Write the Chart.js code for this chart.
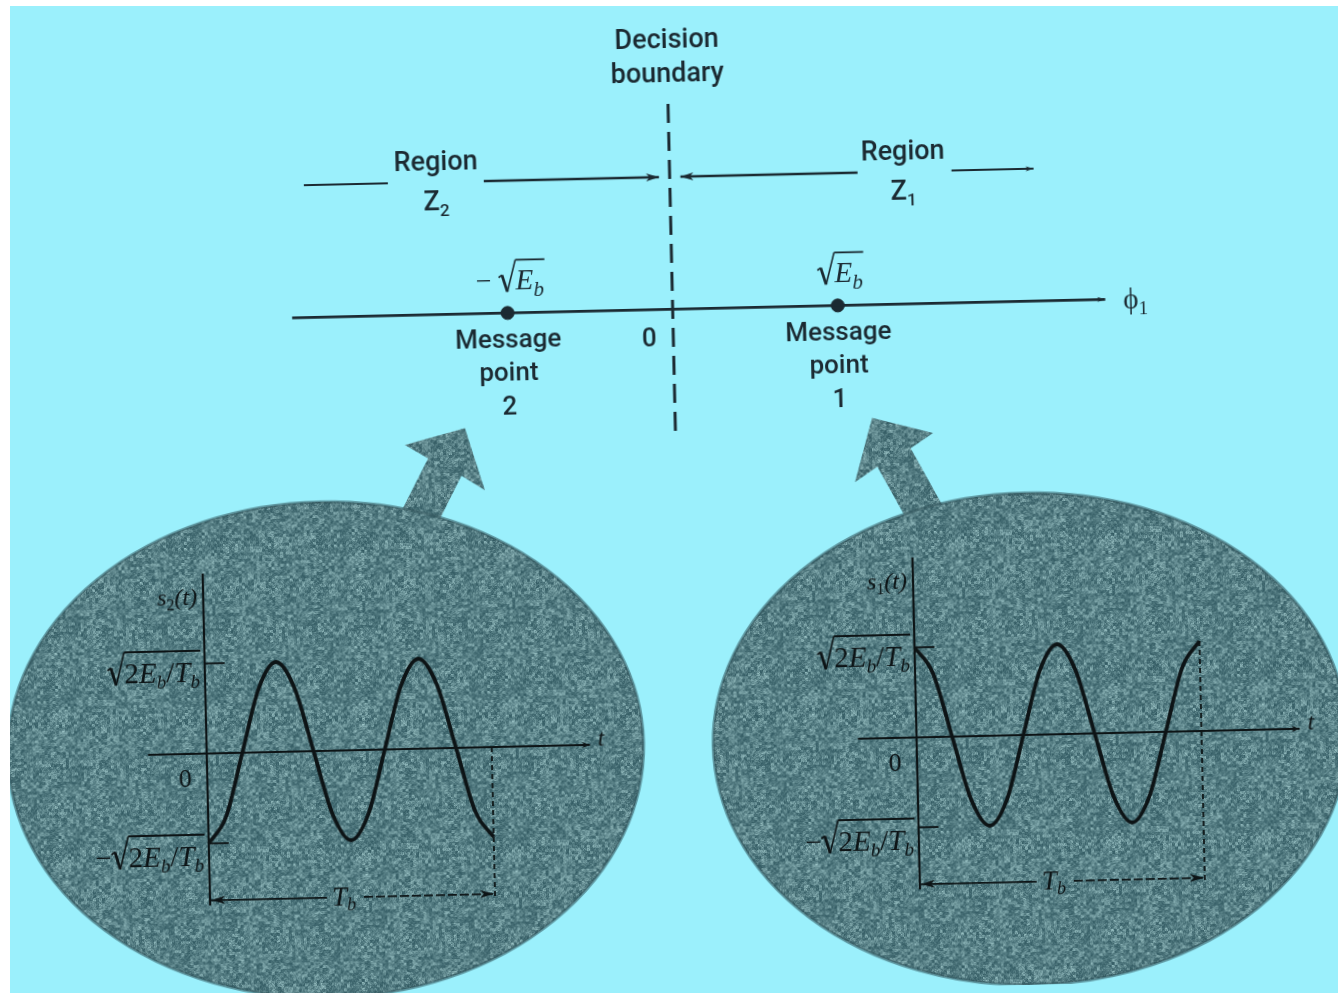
<!DOCTYPE html>
<html lang="en">
<head>
<meta charset="UTF-8">
<title>BPSK signal space</title>
<script src="https://cdn.jsdelivr.net/npm/chart.js@4.4.1/dist/chart.umd.min.js"></script>
<style>
  html, body { margin: 0; padding: 0; background: #ffffff; overflow: hidden; }
  /* the scanned page: thin white margin top/left, slightly rotated content */
  #paper { position: absolute; left: 10px; top: 6px; width: 1328px; height: 987px; background: #9bf0fc; overflow: hidden; }
  #stage { position: absolute; left: -10px; top: -6px; width: 1338px; height: 993px;
           transform: rotate(-1.3deg); transform-origin: 669px 496px; }
  #stage canvas { position: absolute; }
</style>
</head>
<body>
<div id="paper">
  <div id="stage">
    <canvas id="space" width="1338" height="993" style="left:0;top:0"></canvas>
    <canvas id="wave2" width="580" height="390" style="left:60px;top:540px"></canvas>
    <canvas id="wave1" width="580" height="390" style="left:770px;top:540px"></canvas>
  </div>
</div>
<script>
// ---- data ----
// signal space, x in units of sqrt(Eb)
const messagePoints = [-1, 1];
const messageNumbers = ['2', '1'];
const phiAxisRange = [-2.305, 2.62];
const boundaryRange = [-0.74, 1.266];
const regionLevel = 0.805;
const regionZ2Segments = [[-2.216, -1.707], [-1.126, -0.065]];
const regionZ1Segments = [[0.065, 1.138], [1.707, 2.204]];

// waveforms, t in units of Tb, amplitude in units of sqrt(2Eb/Tb)
const tSamples = [0, 0.0625, 0.125, 0.1875, 0.25, 0.3125, 0.375, 0.4375, 0.5,
                  0.5625, 0.625, 0.6875, 0.75, 0.8125, 0.875, 0.9375, 1];
const s1Values = [1, 0.71, 0, -0.71, -1, -0.71, 0, 0.71, 1, 0.71, 0, -0.71, -1, -0.71, 0, 0.71, 1];
const s2Values = [-1, -0.71, 0, 0.71, 1, 0.71, 0, -0.71, -1, -0.71, 0, 0.71, 1, 0.71, 0, -0.71, -1];
const timeAxisRange = [-0.206, 1.345];
const ampAxisRange = [-1.69, 2.0];
const tbLevel = -1.631;

const INK = '#1b2a32';
const INK2 = '#0d1416';
const SANS = 'Roboto, "Noto Sans", sans-serif';
const SERIF = '"Liberation Serif", "DejaVu Serif", serif';

function seg(a, b, y) { return [{x: a, y: y}, {x: b, y: y}]; }
function lineDs(data, color, width, dash) {
  return { data: data, showLine: true, borderColor: color, borderWidth: width,
           borderDash: dash || [], pointRadius: 0, fill: false };
}

// rich text with optional radical sign over a run of parts
function richText(ctx, x, y, parts, align, color) {
  let w = 0;
  parts.forEach(p => {
    if (p.rad) w += p.w;
    else if (p.t) { ctx.font = p.f; w += ctx.measureText(p.t).width; }
  });
  let cx = align === 'center' ? x - w / 2 : (align === 'right' ? x - w : x);
  ctx.fillStyle = color; ctx.strokeStyle = color;
  ctx.textAlign = 'left'; ctx.textBaseline = 'alphabetic';
  let radStart = null, radTop = 0;
  parts.forEach(p => {
    if (p.rad) {
      const h = p.h, rw = p.w;
      ctx.lineWidth = 1.7;
      ctx.beginPath();
      ctx.moveTo(cx, y - 0.42 * h);
      ctx.lineTo(cx + 0.2 * rw, y - 0.5 * h);
      ctx.stroke();
      ctx.lineWidth = 2.8;
      ctx.beginPath();
      ctx.moveTo(cx + 0.2 * rw, y - 0.5 * h);
      ctx.lineTo(cx + 0.5 * rw, y + 0.06 * h);
      ctx.stroke();
      ctx.lineWidth = 1.6;
      ctx.beginPath();
      ctx.moveTo(cx + 0.5 * rw, y + 0.06 * h);
      ctx.lineTo(cx + rw, y - h);
      ctx.stroke();
      radStart = cx + rw; radTop = y - h;
      cx += rw;
    } else if (p.radEnd) {
      ctx.lineWidth = 1.8;
      ctx.beginPath(); ctx.moveTo(radStart, radTop); ctx.lineTo(cx + 1, radTop); ctx.stroke();
    } else {
      ctx.font = p.f;
      ctx.fillText(p.t, cx, y + (p.dy || 0));
      cx += ctx.measureText(p.t).width;
    }
  });
}

function arrowHead(ctx, x, y, dir, len, half) {
  ctx.beginPath();
  ctx.moveTo(x, y);
  ctx.lineTo(x - dir * len, y - half);
  ctx.lineTo(x - dir * len * 0.72, y);
  ctx.lineTo(x - dir * len, y + half);
  ctx.closePath();
  ctx.fill();
}

function hash(i, j) {
  let h = Math.imul(i, 374761393) + Math.imul(j, 668265263) | 0;
  h = Math.imul(h ^ (h >>> 13), 1274126177);
  return ((h ^ (h >>> 16)) >>> 0) / 4294967295;
}

function grainPattern(ctx) {
  const n = 150;
  const c = document.createElement('canvas'); c.width = n; c.height = n;
  const g = c.getContext('2d');
  const img = g.createImageData(n, n);
  for (let j = 0; j < n; j++) {
    for (let i = 0; i < n; i++) {
      // coarse speckle plus a faint diagonal hatch
      let v = hash((i / 3) | 0, (j / 3) | 0) * 0.5 + hash(i + 977, j + 131) * 0.35;
      v += ((i + j) % 6 < 2 ? 0.08 : 0) + ((i - j + 600) % 6 < 2 ? 0.07 : 0);
      v = Math.pow(Math.min(v, 1), 1.5);
      const k = (j * n + i) * 4;
      img.data[k] = 50 + v * 110;
      img.data[k + 1] = 90 + v * 110;
      img.data[k + 2] = 98 + v * 104;
      img.data[k + 3] = 255;
    }
  }
  g.putImageData(img, 0, 0);
  return ctx.createPattern(c, 'repeat');
}

// ---- background blobs: two grainy ellipses with arrows pointing at the message points ----
const blobShapes = [
  ctx => ctx.ellipse(320, 742, 318, 248, 0, 0, Math.PI * 2),
  ctx => ctx.ellipse(1024.5, 747, 317, 246, 0, 0, Math.PI * 2),
  ctx => {
    ctx.moveTo(391, 524); ctx.lineTo(429, 453); ctx.lineTo(406, 439); ctx.lineTo(466.5, 423.4);
    ctx.lineTo(485, 486); ctx.lineTo(462, 471); ctx.lineTo(424.5, 542); ctx.closePath();
  },
  ctx => {
    ctx.moveTo(949, 524.5); ctx.lineTo(911.7, 453.8); ctx.lineTo(934.4, 439); ctx.lineTo(873.8, 422.6);
    ctx.lineTo(855.3, 486.2); ctx.lineTo(878, 471.5); ctx.lineTo(915.3, 542.2); ctx.closePath();
  }
];
const blobs = {
  id: 'blobs',
  beforeDatasetsDraw(chart) {
    const ctx = chart.ctx;
    ctx.save();
    const pat = grainPattern(ctx);
    blobShapes.forEach(draw => {
      ctx.beginPath(); draw(ctx);
      ctx.fillStyle = pat; ctx.fill();
    });
    // slightly darker rim on the ellipses
    ctx.strokeStyle = 'rgba(45, 80, 88, 0.55)';
    ctx.lineWidth = 3;
    blobShapes.slice(0, 2).forEach(draw => { ctx.beginPath(); draw(ctx); ctx.stroke(); });
    ctx.restore();
  }
};

// ---- signal-space labels ----
const spaceLabels = {
  id: 'spaceLabels',
  afterDatasetsDraw(chart) {
    const ctx = chart.ctx, xs = chart.scales.x, ys = chart.scales.y;
    const y0 = ys.getPixelForValue(0);
    ctx.save();
    ctx.fillStyle = INK;
    // arrowheads
    arrowHead(ctx, xs.getPixelForValue(phiAxisRange[1]), y0, 1, 8, 2.5);
    const yr = ys.getPixelForValue(regionLevel);
    arrowHead(ctx, xs.getPixelForValue(regionZ2Segments[1][1]), yr, 1, 13, 4);
    arrowHead(ctx, xs.getPixelForValue(regionZ1Segments[0][0]), yr, -1, 13, 4);
    arrowHead(ctx, xs.getPixelForValue(regionZ1Segments[1][1]), yr, 1, 8, 2.5);

    ctx.textAlign = 'center'; ctx.textBaseline = 'middle';
    ctx.font = '500 27px ' + SANS;
    const bx = xs.getPixelForValue(0), btop = ys.getPixelForValue(boundaryRange[1]);
    ctx.fillText('Decision', bx, btop - 60);
    ctx.fillText('boundary', bx, btop - 26);

    // region labels
    [[-1.415, '2'], [1.414, '1']].forEach(r => {
      const x = xs.getPixelForValue(r[0]);
      ctx.font = '500 27px ' + SANS;
      ctx.textAlign = 'center'; ctx.textBaseline = 'middle';
      ctx.fillText('Region', x, yr - 19);
      richText(ctx, x, yr + 28, [{t: 'Z', f: '500 27px ' + SANS}, {t: r[1], f: '500 17px ' + SANS, dy: 6}], 'center', INK);
    });

    // message points
    messagePoints.forEach((v, i) => {
      const x = xs.getPixelForValue(v);
      const parts = [];
      if (v < 0) parts.push({t: '\u2212 ', f: '28px ' + SERIF});
      parts.push({rad: true, w: 17, h: 30});
      parts.push({t: 'E', f: 'italic 29px ' + SERIF});
      parts.push({t: 'b', f: 'italic 21px ' + SERIF, dy: 7});
      parts.push({radEnd: true});
      richText(ctx, x + 3, y0 - 23, parts, 'center', INK);
      ctx.font = '500 26px ' + SANS;
      ctx.textAlign = 'center'; ctx.textBaseline = 'middle';
      ctx.fillText('Message', x, y0 + 28);
      ctx.fillText('point', x, y0 + 61);
      ctx.fillText(messageNumbers[i], x, y0 + 95);
    });

    // origin and axis name
    ctx.font = '500 26px ' + SANS;
    ctx.fillText('0', bx - 24, y0 + 30);
    richText(ctx, xs.getPixelForValue(phiAxisRange[1]) + 18, y0 + 10,
      [{t: '\u03d5', f: '29px ' + SERIF}, {t: '1', f: '19px ' + SERIF, dy: 6}], 'left', INK);
    ctx.restore();
  }
};

new Chart(document.getElementById('space'), {
  type: 'scatter',
  data: {
    datasets: [
      lineDs(seg(phiAxisRange[0], phiAxisRange[1], 0), INK, 2.6),
      lineDs([{x: 0, y: boundaryRange[0]}, {x: 0, y: boundaryRange[1]}], INK, 3, [19, 9]),
      lineDs(seg(regionZ2Segments[0][0], regionZ2Segments[0][1], regionLevel), INK, 2),
      lineDs(seg(regionZ2Segments[1][0], regionZ2Segments[1][1], regionLevel), INK, 2.4),
      lineDs(seg(regionZ1Segments[0][0], regionZ1Segments[0][1], regionLevel), INK, 2.4),
      lineDs(seg(regionZ1Segments[1][0], regionZ1Segments[1][1], regionLevel), INK, 2),
      { data: messagePoints.map(v => ({x: v, y: 0})), pointRadius: 6.5,
        pointBackgroundColor: INK, pointBorderColor: INK, showLine: false }
    ]
  },
  options: {
    responsive: false, animation: false, events: [],
    layout: { padding: 0 },
    plugins: { legend: { display: false }, tooltip: { enabled: false } },
    scales: {
      x: { type: 'linear', display: false, min: -677 / 167, max: (1338 - 677) / 167 },
      y: { type: 'linear', display: false, min: -(993 - 306.5) / 167, max: 306.5 / 167 }
    }
  },
  plugins: [blobs, spaceLabels]
});

// ---- waveform panels ----
function wavePanel(canvasId, values, index, dashTop) {
  const labels = {
    id: 'waveLabels' + index,
    afterDatasetsDraw(chart) {
      const ctx = chart.ctx, xs = chart.scales.x, ys = chart.scales.y;
      const x0 = xs.getPixelForValue(0), x1 = xs.getPixelForValue(1);
      const y0 = ys.getPixelForValue(0);
      const yt = ys.getPixelForValue(tbLevel);
      ctx.save();
      ctx.fillStyle = INK2;
      arrowHead(ctx, x0 + 1, yt, -1, 14, 4);
      arrowHead(ctx, x1 - 1, yt, 1, 14, 4);
      arrowHead(ctx, xs.getPixelForValue(timeAxisRange[1]), y0, 1, 8, 3);
      const f = '29px ' + SERIF, fi = 'italic 29px ' + SERIF, fs = 'italic 19px ' + SERIF;
      const amp = [{rad: true, w: 17, h: 31}, {t: '2', f: f}, {t: 'E', f: fi}, {t: 'b', f: fs, dy: 6},
                   {t: '/', f: f}, {t: 'T', f: fi}, {t: 'b', f: fs, dy: 6}, {radEnd: true}];
      richText(ctx, x0 - 5, ys.getPixelForValue(1) + 18, amp, 'right', INK2);
      richText(ctx, x0 - 5, ys.getPixelForValue(-1) + 22, [{t: '\u2212', f: f}].concat(amp), 'right', INK2);
      richText(ctx, x0 - 6, ys.getPixelForValue(1.74) + 8,
        [{t: 's', f: 'italic 24px ' + SERIF}, {t: index, f: '16px ' + SERIF, dy: 5}, {t: '(t)', f: 'italic 24px ' + SERIF}],
        'right', INK2);
      ctx.font = '26px ' + SERIF; ctx.textAlign = 'center'; ctx.textBaseline = 'middle';
      ctx.fillText('0', x0 - 22, y0 + 26);
      richText(ctx, xs.getPixelForValue(0.47), yt + 8,
        [{t: 'T', f: 'italic 27px ' + SERIF}, {t: 'b', f: 'italic 18px ' + SERIF, dy: 5}], 'center', INK2);
      ctx.font = 'italic 24px ' + SERIF; ctx.textAlign = 'left';
      ctx.fillText('t', xs.getPixelForValue(timeAxisRange[1]) + 8, y0 + 1);
      ctx.restore();
    }
  };
  new Chart(document.getElementById(canvasId), {
    type: 'scatter',
    data: {
      datasets: [
        lineDs(seg(timeAxisRange[0], timeAxisRange[1], 0), INK2, 2.2),
        lineDs([{x: 0, y: ampAxisRange[0]}, {x: 0, y: ampAxisRange[1]}], INK2, 2.2),
        lineDs(seg(0, 0.07, 1), INK2, 1.8),
        lineDs(seg(0, 0.07, -1), INK2, 1.8),
        lineDs([{x: 1, y: dashTop}, {x: 1, y: ampAxisRange[0]}], INK2, 1.8, [5, 4]),
        lineDs(seg(0, 0.41, tbLevel), INK2, 1.8),
        lineDs(seg(0.54, 1, tbLevel), INK2, 1.8, [9, 3]),
        Object.assign(lineDs(tSamples.map((t, i) => ({x: t, y: values[i]})), INK2, 3.8),
                      { cubicInterpolationMode: 'monotone' })
      ]
    },
    options: {
      responsive: false, animation: false, events: [],
      layout: { padding: 0 },
      plugins: { legend: { display: false }, tooltip: { enabled: false } },
      scales: {
        x: { type: 'linear', display: false, min: -141 / 285, max: (580 - 141) / 285 },
        y: { type: 'linear', display: false, min: -(390 - 203) / 90, max: 203 / 90 }
      }
    },
    plugins: [labels]
  });
}

wavePanel('wave2', s2Values, '2', 0);
wavePanel('wave1', s1Values, '1', 1);
</script>
</body>
</html>
